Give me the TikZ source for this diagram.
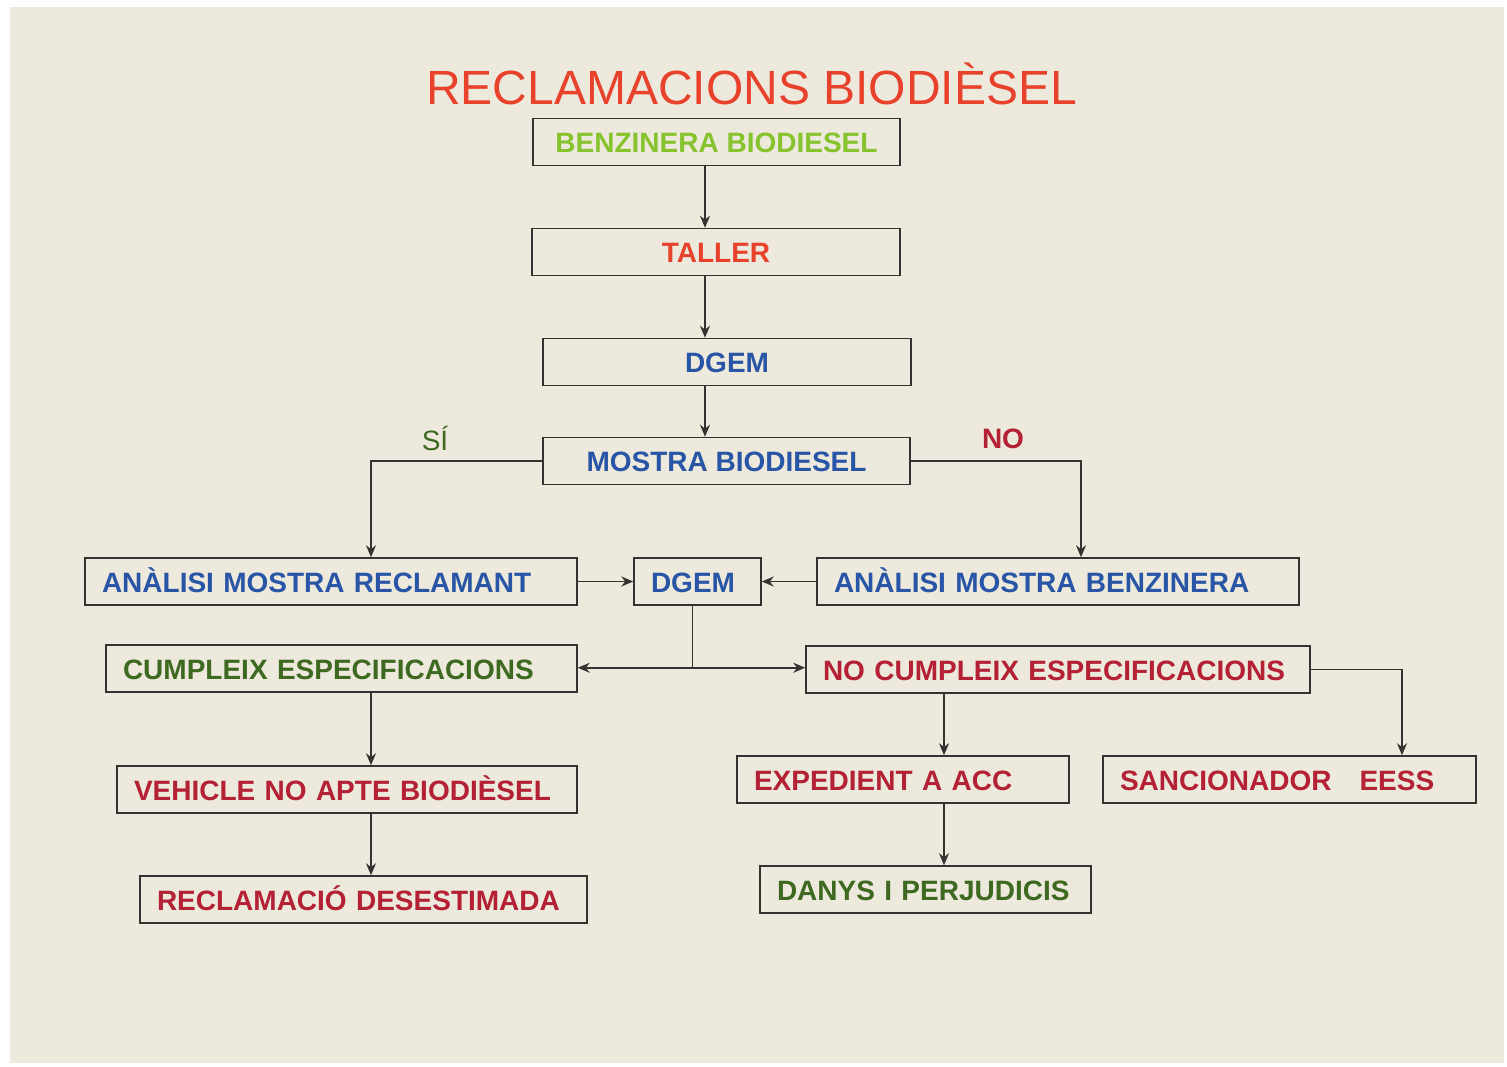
\documentclass[tikz,border=0pt]{standalone}
\usepackage{fontspec}
\setmainfont{Liberation Sans}
\usepackage{tikz}
\usetikzlibrary{arrows.meta}
\definecolor{fons}{RGB}{237,233,221}
\definecolor{vermell}{RGB}{232,66,44}
\definecolor{verdclar}{RGB}{135,195,45}
\definecolor{verdfosc}{RGB}{62,105,32}
\definecolor{blau}{RGB}{40,85,165}
\definecolor{granat}{RGB}{180,32,52}
\definecolor{linia}{RGB}{55,50,50}

\begin{document}
\begin{tikzpicture}[x=1pt, y=-1pt, >={Stealth[length=12pt, width=10pt]},
    caixa/.style={draw=linia, line width=1.5pt, minimum height=47pt, inner xsep=17pt,
        text height=21pt, text depth=0pt, font=\fontsize{28}{30}\selectfont\bfseries},
    esq/.style={caixa, align=left, text width=#1},
    fletxa/.style={->, draw=linia, line width=1.7pt}]

    \useasboundingbox (0,0) rectangle (1507,1067);
    \fill[white] (0,0) rectangle (1507,1067);
    \fill[fons] (10,7) rectangle (1504,1063);

    \node[text=vermell, font=\fontsize{48}{50}\selectfont, text height=34pt, text depth=0pt] (titol) at (751.5,87.5) {RECLAMACIONS BIODIÈSEL};

    \node[caixa, minimum width=367pt, text=verdclar] (ben) at (716.5,142) {BENZINERA BIODIESEL};
    \node[caixa, minimum width=368pt, text=vermell] (tal) at (716,252) {TALLER};
    \node[caixa, minimum width=368pt, text=blau] (dg1) at (727,362) {DGEM};
    \node[caixa, minimum width=367pt, text=blau] (mos) at (726.5,461) {MOSTRA BIODIESEL};

    \node[esq=458pt, text=blau] (anr) at (331,581.5) {ANÀLISI MOSTRA RECLAMANT};
    \node[esq=93pt, text=blau] (dg2) at (697.5,581.5) {DGEM};
    \node[esq=448pt, text=blau] (anb) at (1058,581.5) {ANÀLISI MOSTRA BENZINERA};

    \node[esq=437pt, text=verdfosc] (cum) at (341.5,668.5) {CUMPLEIX ESPECIFICACIONS};
    \node[esq=470pt, text=granat] (nocum) at (1058,669.5) {NO CUMPLEIX ESPECIFICACIONS};

    \node[esq=426pt, text=granat] (veh) at (347,789.5) {VEHICLE NO APTE BIODIÈSEL};
    \node[esq=413pt, text=granat] (rec) at (363.5,899.5) {RECLAMACIÓ DESESTIMADA};

    \node[esq=298pt, text=granat] (exp) at (903,779.5) {EXPEDIENT A ACC};
    \node[esq=339pt, text=granat] (san) at (1289.5,779.5) {SANCIONADOR\ \ \ EESS};
    \node[esq=297pt, text=verdfosc] (dan) at (925.5,889.5) {DANYS I PERJUDICIS};

    \node[text=verdfosc, font=\fontsize{28}{30}\selectfont] (si) at (435,438) {SÍ};
    \node[text=granat, font=\fontsize{28}{30}\selectfont\bfseries] (no) at (1003,439) {NO};

    \coordinate (eix) at (705,0);
    \coordinate (esquerra) at (371,0);
    \coordinate (dreta) at (944,0);

    \draw[fletxa] (ben.south -| eix) -- (tal.north -| eix);
    \draw[fletxa] (tal.south -| eix) -- (dg1.north -| eix);
    \draw[fletxa] (dg1.south -| eix) -- (mos.north -| eix);

    \draw[fletxa] (mos.west) -| (anr.north -| esquerra);
    \draw[fletxa] (mos.east) -| ([xshift=23pt]anb.north);
    \draw[fletxa] (anr.east) -- (dg2.west);
    \draw[fletxa] (anb.west) -- (dg2.east);

    \draw[draw=linia, line width=1.7pt] ([xshift=-5pt]dg2.south) -- ++(0,62) coordinate (bif);
    \draw[fletxa] (bif) -- (cum.east |- bif);
    \draw[fletxa] (bif) -- (nocum.west |- bif);

    \draw[fletxa] (cum.south -| esquerra) -- (veh.north -| esquerra);
    \draw[fletxa] (veh.south -| esquerra) -- (rec.north -| esquerra);

    \draw[fletxa] (nocum.south -| dreta) -- (exp.north -| dreta);
    \draw[fletxa] (exp.south -| dreta) -- (dan.north -| dreta);
    \draw[fletxa] (nocum.east) -| ([xshift=112.5pt]san.north);

\end{tikzpicture}
\end{document}
